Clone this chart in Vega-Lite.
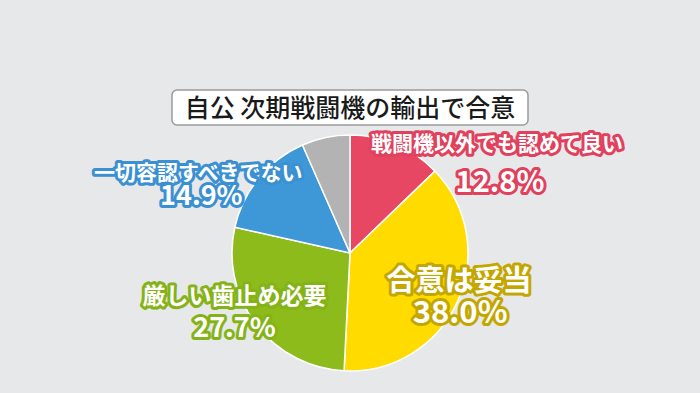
{
  "$schema": "https://vega.github.io/schema/vega-lite/v6.json",
  "background": "#E7E8EA",
  "padding": {"left": 0, "right": 0, "top": 89, "bottom": 19},
  "config": {"view": {"stroke": null}},
  "bounds": "flush",
  "center": true,
  "spacing": 6,
  "vconcat": [
    {
      "width": 356,
      "height": 35,
      "view": {"fill": "#FFFFFF", "stroke": "#9A9A9A", "strokeWidth": 1.5, "cornerRadius": 5},
      "data": {"values": [{"title": "自公 次期戦闘機の輸出で合意"}]},
      "mark": {"type": "text", "font": "Noto Sans CJK JP", "fontSize": 25, "fontWeight": 500, "fill": "#1A1A1A", "baseline": "middle", "align": "center", "dy": 1},
      "encoding": {"text": {"field": "title"}}
    },
    {
      "width": 700,
      "height": 244,
      "data": {"values": [
        {"cat": "戦闘機以外でも認めて良い", "value": 12.8, "pct": "12.8%", "idx": 1},
        {"cat": "合意は妥当", "value": 38.0, "pct": "38.0%", "idx": 2},
        {"cat": "厳しい歯止め必要", "value": 27.7, "pct": "27.7%", "idx": 3},
        {"cat": "一切容認すべきでない", "value": 14.9, "pct": "14.9%", "idx": 4},
        {"cat": "その他", "value": 6.6, "pct": "6.6%", "idx": 5}
      ]},
      "transform": [
        {"window": [{"op": "sum", "field": "value", "as": "cum"}], "sort": [{"field": "idx"}], "frame": [null, 0]},
        {"calculate": "datum.cum - datum.value / 2", "as": "mid"}
      ],
      "layer": [
        {
          "mark": {"type": "arc", "outerRadius": 118, "stroke": "#FFFFFF", "strokeWidth": 1.5},
          "encoding": {
            "theta": {"field": "value", "type": "quantitative", "stack": true},
            "order": {"field": "idx", "type": "quantitative"},
            "color": {"field": "cat", "type": "nominal", "legend": null,
              "scale": {"domain": ["戦闘機以外でも認めて良い", "合意は妥当", "厳しい歯止め必要", "一切容認すべきでない", "その他"],
                        "range": ["#E84763", "#FFDB00", "#8CBB1B", "#3E98D8", "#B3B3B3"]}}
          }
        },
        {"transform": [{"filter": "datum.idx === 1"}],
         "mark": {"type": "text", "radius": 120, "dx": 100, "dy": 2, "fontSize": 21, "font": "Noto Sans CJK JP", "fontWeight": "bold", "fill": "#E0415C", "stroke": "#E0415C", "strokeWidth": 6, "strokeJoin": "round"},
         "encoding": {"theta": {"field": "mid", "type": "quantitative"}, "text": {"field": "cat"}}},
        {"transform": [{"filter": "datum.idx === 1"}],
         "mark": {"type": "text", "radius": 120, "dx": 100, "dy": 2, "fontSize": 21, "font": "Noto Sans CJK JP", "fontWeight": "bold", "fill": "#FFFFFF"},
         "encoding": {"theta": {"field": "mid", "type": "quantitative"}, "text": {"field": "cat"}}},
        {"transform": [{"filter": "datum.idx === 1"}],
         "mark": {"type": "text", "radius": 120, "dx": 103, "dy": 40, "fontSize": 29, "font": "Noto Sans CJK JP", "fontWeight": "bold", "fill": "#E0415C", "stroke": "#E0415C", "strokeWidth": 6, "strokeJoin": "round"},
         "encoding": {"theta": {"field": "mid", "type": "quantitative"}, "text": {"field": "pct"}}},
        {"transform": [{"filter": "datum.idx === 1"}],
         "mark": {"type": "text", "radius": 120, "dx": 103, "dy": 40, "fontSize": 29, "font": "Noto Sans CJK JP", "fontWeight": "bold", "fill": "#FFFFFF"},
         "encoding": {"theta": {"field": "mid", "type": "quantitative"}, "text": {"field": "pct"}}},

        {"transform": [{"filter": "datum.idx === 2"}],
         "mark": {"type": "text", "radius": 110, "dx": 9, "dy": -17, "fontSize": 29, "font": "Noto Sans CJK JP", "fontWeight": "bold", "fill": "#C4A600", "stroke": "#C4A600", "strokeWidth": 6, "strokeJoin": "round"},
         "encoding": {"theta": {"field": "mid", "type": "quantitative"}, "text": {"field": "cat"}}},
        {"transform": [{"filter": "datum.idx === 2"}],
         "mark": {"type": "text", "radius": 110, "dx": 9, "dy": -17, "fontSize": 29, "font": "Noto Sans CJK JP", "fontWeight": "bold", "fill": "#FFFFFF"},
         "encoding": {"theta": {"field": "mid", "type": "quantitative"}, "text": {"field": "cat"}}},
        {"transform": [{"filter": "datum.idx === 2"}],
         "mark": {"type": "text", "radius": 110, "dx": 10, "dy": 15, "fontSize": 31, "font": "Noto Sans CJK JP", "fontWeight": "bold", "fill": "#C4A600", "stroke": "#C4A600", "strokeWidth": 6, "strokeJoin": "round"},
         "encoding": {"theta": {"field": "mid", "type": "quantitative"}, "text": {"field": "pct"}}},
        {"transform": [{"filter": "datum.idx === 2"}],
         "mark": {"type": "text", "radius": 110, "dx": 10, "dy": 15, "fontSize": 31, "font": "Noto Sans CJK JP", "fontWeight": "bold", "fill": "#FFFFFF"},
         "encoding": {"theta": {"field": "mid", "type": "quantitative"}, "text": {"field": "pct"}}},

        {"transform": [{"filter": "datum.idx === 3"}],
         "mark": {"type": "text", "radius": 120, "dx": -20, "dy": -29, "fontSize": 23, "font": "Noto Sans CJK JP", "fontWeight": "bold", "fill": "#84B317", "stroke": "#84B317", "strokeWidth": 6, "strokeJoin": "round"},
         "encoding": {"theta": {"field": "mid", "type": "quantitative"}, "text": {"field": "cat"}}},
        {"transform": [{"filter": "datum.idx === 3"}],
         "mark": {"type": "text", "radius": 120, "dx": -20, "dy": -29, "fontSize": 23, "font": "Noto Sans CJK JP", "fontWeight": "bold", "fill": "#FFFFFF"},
         "encoding": {"theta": {"field": "mid", "type": "quantitative"}, "text": {"field": "cat"}}},
        {"transform": [{"filter": "datum.idx === 3"}],
         "mark": {"type": "text", "radius": 120, "dx": -20, "dy": 3, "fontSize": 27, "font": "Noto Sans CJK JP", "fontWeight": "bold", "fill": "#84B317", "stroke": "#84B317", "strokeWidth": 6, "strokeJoin": "round"},
         "encoding": {"theta": {"field": "mid", "type": "quantitative"}, "text": {"field": "pct"}}},
        {"transform": [{"filter": "datum.idx === 3"}],
         "mark": {"type": "text", "radius": 120, "dx": -20, "dy": 3, "fontSize": 27, "font": "Noto Sans CJK JP", "fontWeight": "bold", "fill": "#FFFFFF"},
         "encoding": {"theta": {"field": "mid", "type": "quantitative"}, "text": {"field": "pct"}}},

        {"transform": [{"filter": "datum.idx === 4"}],
         "mark": {"type": "text", "radius": 120, "dx": -59, "dy": -3, "fontSize": 21, "font": "Noto Sans CJK JP", "fontWeight": "bold", "fill": "#3A90D0", "stroke": "#3A90D0", "strokeWidth": 6, "strokeJoin": "round"},
         "encoding": {"theta": {"field": "mid", "type": "quantitative"}, "text": {"field": "cat"}}},
        {"transform": [{"filter": "datum.idx === 4"}],
         "mark": {"type": "text", "radius": 120, "dx": -59, "dy": -3, "fontSize": 21, "font": "Noto Sans CJK JP", "fontWeight": "bold", "fill": "#FFFFFF"},
         "encoding": {"theta": {"field": "mid", "type": "quantitative"}, "text": {"field": "cat"}}},
        {"transform": [{"filter": "datum.idx === 4"}],
         "mark": {"type": "text", "radius": 120, "dx": -56, "dy": 20, "fontSize": 27, "font": "Noto Sans CJK JP", "fontWeight": "bold", "fill": "#3A90D0", "stroke": "#3A90D0", "strokeWidth": 6, "strokeJoin": "round"},
         "encoding": {"theta": {"field": "mid", "type": "quantitative"}, "text": {"field": "pct"}}},
        {"transform": [{"filter": "datum.idx === 4"}],
         "mark": {"type": "text", "radius": 120, "dx": -56, "dy": 20, "fontSize": 27, "font": "Noto Sans CJK JP", "fontWeight": "bold", "fill": "#FFFFFF"},
         "encoding": {"theta": {"field": "mid", "type": "quantitative"}, "text": {"field": "pct"}}}
      ]
    }
  ]
}
